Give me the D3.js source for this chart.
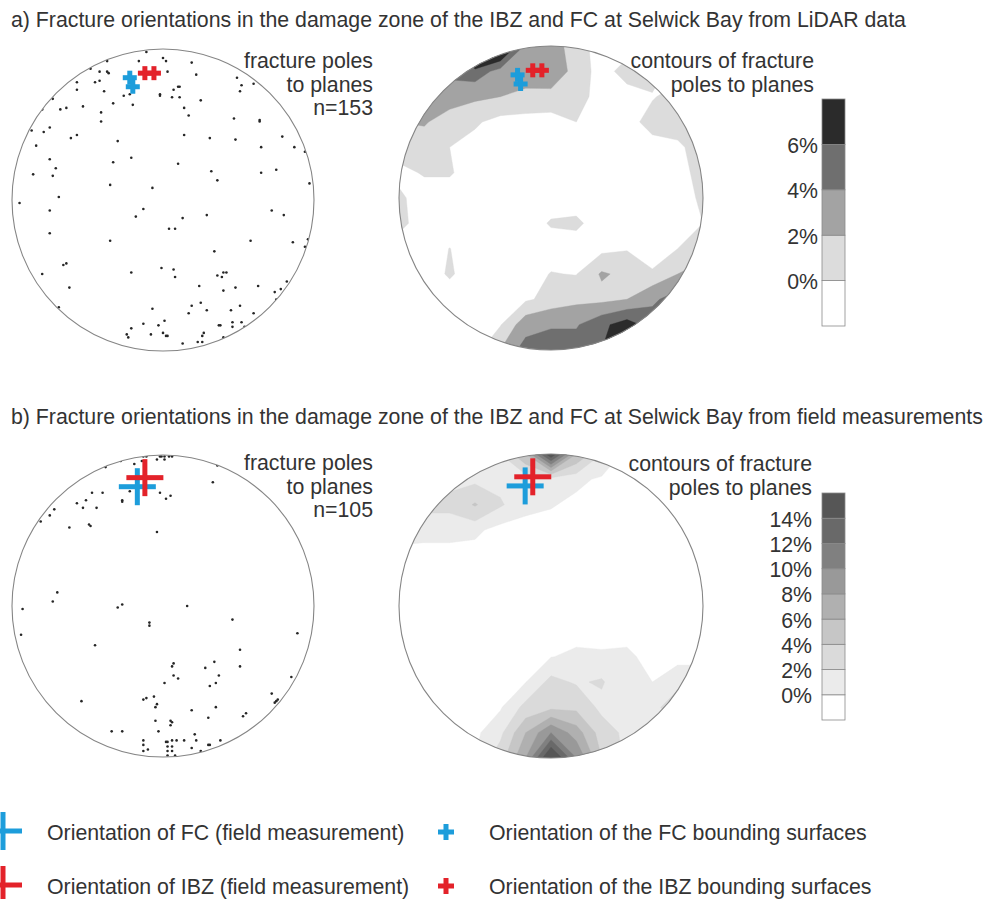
<!DOCTYPE html>
<html><head><meta charset="utf-8">
<script src="https://cdn.jsdelivr.net/npm/d3@7"></script>
<style>
body{margin:0;background:#fff;}
svg{display:block;}
text{font-family:"Liberation Sans",Arial,Helvetica,sans-serif;fill:#333;}
</style>
</head><body>
<svg id="chart" width="990" height="899"></svg>
<script>
// ---------------- DATA ----------------
// Poles to fracture planes, equal-area net coordinates [east, north] in % of net radius
const lidarPoles = [
[-11,98],[0,94],[2,92],[-16,92],[-37,92],[-48,87],[-42,85],[-37,85],[-36,84],[19,91],
[3,85],[22,83],[49,81],[-45,78],[-42,79],[-57,78],[52,76],[51,72],[60,77],[10,75],
[11,75],[7,73],[-57,73],[-39,72],[-26,69],[-22,70],[-2,70],[-2,69],[6,68],[11,68],
[25,66],[-73,67],[-33,64],[-20,63],[-80,60],[-68,60],[-64,61],[-53,62],[-41,58],[14,61],
[17,56],[-41,52],[47,54],[64,53],[64,52],[-75,48],[-87,46],[-79,45],[-57,43],[-61,41],
[14,43],[31,41],[48,40],[79,42],[-84,36],[-30,39],[65,35],[87,35],[94,32],[-75,27],
[-21,28],[-33,25],[10,24],[-71,21],[-86,17],[-73,16],[32,19],[36,13],[65,18],[75,20],
[97,11],[-35,10],[-7,8],[-69,2],[-95,-2],[-13,-6],[-18,-11],[13,-12],[29,-10],[-75,-7],
[72,-7],[80,-10],[4,-19],[8,-19],[-75,-22],[-35,-27],[58,-27],[86,-28],[94,-31],[96,-26],
[34,-34],[-66,-43],[-64,-42],[-80,-49],[-21,-48],[-1,-45],[7,-46],[8,-51],[36,-50],[39,-51],
[40,-48],[42,-48],[82,-54],[-62,-58],[24,-57],[48,-58],[40,-60],[63,-57],[78,-59],[74,-61],
[75,-66],[-69,-71],[-7,-72],[19,-70],[25,-68],[29,-73],[45,-73],[51,-70],[17,-75],[60,-75],
[-13,-82],[1,-80],[-3,-83],[-21,-85],[-24,-89],[-23,-91],[-8,-89],[0,-88],[2,-90],[3,-90],
[37,-83],[38,-83],[46,-81],[46,-84],[52,-81],[54,-84],[26,-90],[27,-88],[13,-95],[23,-94],
[26,-94],[40,-91]
];
const fieldPoles = [
[-13,99],[-11,99],[-2,99],[-1,99],[1,99],[4,99],[6,99],[-4,97],[1,97],[-28,96],
[-19,94],[-14,96],[-38,92],[36,93],[33,82],[-47,75],[-40,75],[-22,76],[-2,75],[5,73],
[2,71],[-27,70],[-27,69],[-57,68],[-51,70],[-44,65],[-53,65],[-72,64],[-75,60],[-81,56],
[-62,52],[-49,54],[-48,53],[-4,49],[-70,9],[-73,3],[-27,1],[-30,-1],[-93,-2],[16,0],
[-9,-11],[-9,-13],[46,-9],[-94,-19],[89,-18],[-45,-26],[51,-29],[7,-38],[6,-40],[28,-41],
[34,-37],[51,-40],[7,-46],[10,-48],[37,-46],[1,-51],[35,-51],[31,-53],[85,-47],[-13,-62],
[-11,-61],[-6,-60],[-4,-65],[-5,-67],[-54,-63],[72,-58],[74,-64],[75,-63],[76,-62],[19,-69],
[35,-67],[55,-71],[53,-73],[30,-74],[-5,-76],[5,-76],[6,-77],[5,-79],[-34,-83],[-27,-83],
[-3,-83],[-13,-89],[-13,-92],[-10,-95],[-13,-96],[2,-90],[3,-90],[6,-89],[9,-89],[14,-89],
[21,-85],[22,-89],[3,-93],[6,-93],[3,-96],[6,-96],[3,-99],[8,-99],[19,-94],[25,-96],
[30,-92],[31,-92],[38,-89]
];
const lidarCount = 153;
const fieldCount = 105;

// Orientations (poles) of FC / IBZ
const fcBoundingSurfaces  = [[-22,81],[-20,75]];
const ibzBoundingSurfaces = [[-12,84],[-6,84]];
const fcFieldMeasurement  = [[-17,79]];
const ibzFieldMeasurement = [[-12,85]];

// Pole density (%) on a 13 x 13 grid spanning the net, rows from north to south
const lidarDensity = [
[0,0,3,14,10,3.5,3,1,0,0,0,0,0],
[0,3,4.5,5.2,3.2,3,3.5,1.2,0,1,1,0,0],
[3,3,3,2.3,2,1.5,1.3,1,0,0,0.4,1,1],
[2,2.2,1,0.7,0,0,0,0.5,0,0,1,1,1],
[1,1,0.5,0,0,0,0,0,0,0,0,0.3,1],
[0.2,0.6,0.6,0,0,0,0,0,0,0,0,0,1],
[0.7,0,0,0,0,0,0,0,0,0,0,0,0.7],
[0.8,0,0,0,0,0,0.6,0.7,0,0,0,0,0.5],
[0,0,0.52,0,0,0,0,0,0.1,0.4,0.1,0.5,1],
[0,0,0.62,0,0,0,0.55,0.45,2.2,1.6,0.6,2,3],
[0,0,0,0,0,0.3,0.9,1.5,1.5,2,3.6,5,5],
[0,0,0,0,0.4,3,3.8,3.8,5.5,7,5,5,5],
[0,0,0,0,2,5,5,5,6,7,5,5,5]
];
const fieldDensity = [
[0,0,0,0,2,6,16,6,2,0,0,0,0],
[0,1,1.5,1.5,1.5,1,1,0.8,0.3,0,0,0,0],
[1,2.5,2.5,4.2,2.2,0.9,0.6,0.2,0,0,0,0,0],
[1.2,1,1,0.8,0,0,0,0,0,0,0,0,0],
[0,0,0,0,0,0,0,0,0,0,0,0,0],
[0,0,0,0,0,0,0,0,0,0,0,0,0],
[0,0,0,0,0,0,0,0,0,0,0,0,0],
[0,0,0,0,0,0,0,0,0,0,0,0,0],
[0,0,0,0,0,0,0.45,0.8,0.7,0.8,0,0,0],
[0,0,0,0,0,0.45,2.5,1.8,2.2,0.5,0.5,1.5,1.5],
[0,0,0,0,0.35,2.5,3.5,3.5,1.5,1,1.5,3,2],
[0,0,0,0.2,1.5,6,10,7,3,1.5,1.5,2,2],
[0,0,0,0.5,3,8,17,10,4,1.5,1.5,2,2]
];

// Contour levels (%) and fills
const lidarLevels = [0.5, 2, 4, 6];
const lidarFills  = ["#dcdcdc","#a3a3a3","#6f6f6f","#2b2b2b"];
const lidarTicks  = [0, 2, 4, 6];
const fieldLevels = [0.5, 2, 4, 6, 8, 10, 12, 14];
const fieldFills  = ["#ebebeb","#dadada","#c6c6c6","#b0b0b0","#999999","#808080","#696969","#565656"];
const fieldTicks  = [0, 2, 4, 6, 8, 10, 12, 14];

const titleA = "a) Fracture orientations in the damage zone of the IBZ and FC at Selwick Bay from LiDAR data";
const titleB = "b) Fracture orientations in the damage zone of the IBZ and FC at Selwick Bay from field measurements";
const BLUE = "#1d9ddb", RED = "#e3222a";
const legendItems = [
  {label:"Orientation of FC (field measurement)", color:BLUE, big:true},
  {label:"Orientation of IBZ (field measurement)", color:RED, big:true},
  {label:"Orientation of the FC bounding surfaces", color:BLUE, big:false},
  {label:"Orientation of the IBZ bounding surfaces", color:RED, big:false}
];

// ---------------- DRAWING ----------------
const svg = d3.select("#chart");
const FS = 21.3;

function netScales(cx, cy, r){
  return {
    x: d3.scaleLinear().domain([-100,100]).range([cx-r, cx+r]),
    y: d3.scaleLinear().domain([-100,100]).range([cy+r, cy-r])
  };
}
function plus(g, x, y, half, thick, color){
  g.append("rect").attr("x", x-half).attr("y", y-thick/2).attr("width", 2*half).attr("height", thick).attr("fill", color);
  g.append("rect").attr("x", x-thick/2).attr("y", y-half).attr("width", thick).attr("height", 2*half).attr("fill", color);
}
let clipId = 0;
function net(cx, cy, r){
  const id = "clip" + (clipId++);
  svg.append("clipPath").attr("id", id).append("circle").attr("cx", cx).attr("cy", cy).attr("r", r);
  const g = svg.append("g");
  const inner = g.append("g").attr("clip-path", `url(#${id})`);
  inner.append("circle").attr("cx", cx).attr("cy", cy).attr("r", r).attr("fill", "#fff");
  return {g, inner, s: netScales(cx, cy, r), outline(){
    g.append("circle").attr("cx", cx).attr("cy", cy).attr("r", r)
      .attr("fill", "none").attr("stroke", "#858585").attr("stroke-width", 1.1);
  }};
}
function drawMarkers(n, smallFC, smallIBZ, bigFC, bigIBZ){
  smallFC.forEach(d => plus(n.g, n.s.x(d[0]), n.s.y(d[1]), 7, 5, BLUE));
  smallIBZ.forEach(d => plus(n.g, n.s.x(d[0]), n.s.y(d[1]), 7, 5, RED));
  bigFC.forEach(d => plus(n.g, n.s.x(d[0]), n.s.y(d[1]), 18.5, 5, BLUE));
  bigIBZ.forEach(d => plus(n.g, n.s.x(d[0]), n.s.y(d[1]), 18.5, 5, RED));
}
function poleNet(cx, cy, r, poles, smallFC, smallIBZ, bigFC, bigIBZ){
  const n = net(cx, cy, r);
  n.inner.selectAll("circle.pole").data(poles).join("circle").attr("class","pole")
    .attr("cx", d => n.s.x(d[0])).attr("cy", d => n.s.y(d[1])).attr("r", 1.3).attr("fill", "#262626");
  drawMarkers(n, smallFC, smallIBZ, bigFC, bigIBZ);
  n.outline();
}
function contourNet(cx, cy, r, grid, levels, fills, smallFC, smallIBZ, bigFC, bigIBZ){
  const n = net(cx, cy, r);
  const cols = grid[0].length, rows = grid.length;
  const gx = d3.scaleLinear().domain([0.5, cols-0.5]).range([-100,100]);
  const gy = d3.scaleLinear().domain([0.5, rows-0.5]).range([100,-100]);
  const proj = d3.geoTransform({point(x, y){ this.stream.point(n.s.x(gx(x)), n.s.y(gy(y))); }});
  const path = d3.geoPath(proj);
  const color = d3.scaleOrdinal().domain(levels).range(fills);
  const contours = d3.contours().size([cols, rows]).thresholds(levels)(grid.flat());
  n.inner.selectAll("path.band").data(contours).join("path").attr("class","band")
    .attr("d", path).attr("fill", d => color(d.value)).attr("stroke", d => color(d.value)).attr("stroke-width", 0.4);
  drawMarkers(n, smallFC, smallIBZ, bigFC, bigIBZ);
  n.outline();
}
function colorbar(x, top, bottom, fills, ticks, labelX){
  const blocks = ["#ffffff"].concat(fills);
  const yb = d3.scaleLinear().domain([0, blocks.length]).range([bottom, top]);
  const g = svg.append("g");
  g.selectAll("rect").data(blocks).join("rect")
    .attr("x", x).attr("width", 23)
    .attr("y", (d,i) => yb(i+1)).attr("height", (d,i) => yb(i) - yb(i+1))
    .attr("fill", d => d).attr("stroke", "#8a8a8a").attr("stroke-width", 0.8);
  const ty = d3.scaleLinear().domain([ticks[0], ticks[ticks.length-1]]).range([yb(1), yb(ticks.length)]);
  g.selectAll("text").data(ticks).join("text")
    .attr("x", labelX).attr("y", d => ty(d) + 8.5).attr("text-anchor", "end")
    .attr("font-size", FS).text(d => d + "%");
}
function lines(x, y0, dy, arr){
  arr.forEach((t,i) => svg.append("text").attr("x", x).attr("y", y0 + i*dy)
    .attr("text-anchor", "end").attr("font-size", FS).text(t));
}

// Titles
svg.append("text").attr("x", 11).attr("y", 27).attr("font-size", FS).text(titleA);
svg.append("text").attr("x", 11).attr("y", 424).attr("font-size", FS).text(titleB);

// Panel a
poleNet(163, 200, 151, lidarPoles, fcBoundingSurfaces, ibzBoundingSurfaces, [], []);
lines(373, 68, 23.5, ["fracture poles", "to planes", "n=" + lidarCount]);
contourNet(551, 198, 152, lidarDensity, lidarLevels, lidarFills, fcBoundingSurfaces, ibzBoundingSurfaces, [], []);
lines(814, 68, 23.5, ["contours of fracture", "poles to planes"]);
colorbar(822, 99, 326, lidarFills, lidarTicks, 818);

// Panel b
poleNet(163, 606, 151, fieldPoles, [], [], fcFieldMeasurement, ibzFieldMeasurement);
lines(373, 470, 23.5, ["fracture poles", "to planes", "n=" + fieldCount]);
contourNet(551, 606, 152, fieldDensity, fieldLevels, fieldFills, [], [], fcFieldMeasurement, ibzFieldMeasurement);
lines(812, 471, 23.5, ["contours of fracture", "poles to planes"]);
colorbar(822, 493, 720, fieldFills, fieldTicks, 812);

// Legend
const lg = svg.append("g");
const rowY = d3.scaleOrdinal().domain([0,1]).range([831, 885]);
legendItems.forEach((d, i) => {
  const y = rowY(i % 2);
  if (d.big) {
    plus(lg, 3, y, 19, 5, d.color);
    lg.append("text").attr("x", 47).attr("y", y + 9).attr("font-size", FS).text(d.label);
  } else {
    plus(lg, 446, y + 1, 8, 5, d.color);
    lg.append("text").attr("x", 489).attr("y", y + 9).attr("font-size", FS).text(d.label);
  }
});
</script>
</body></html>
